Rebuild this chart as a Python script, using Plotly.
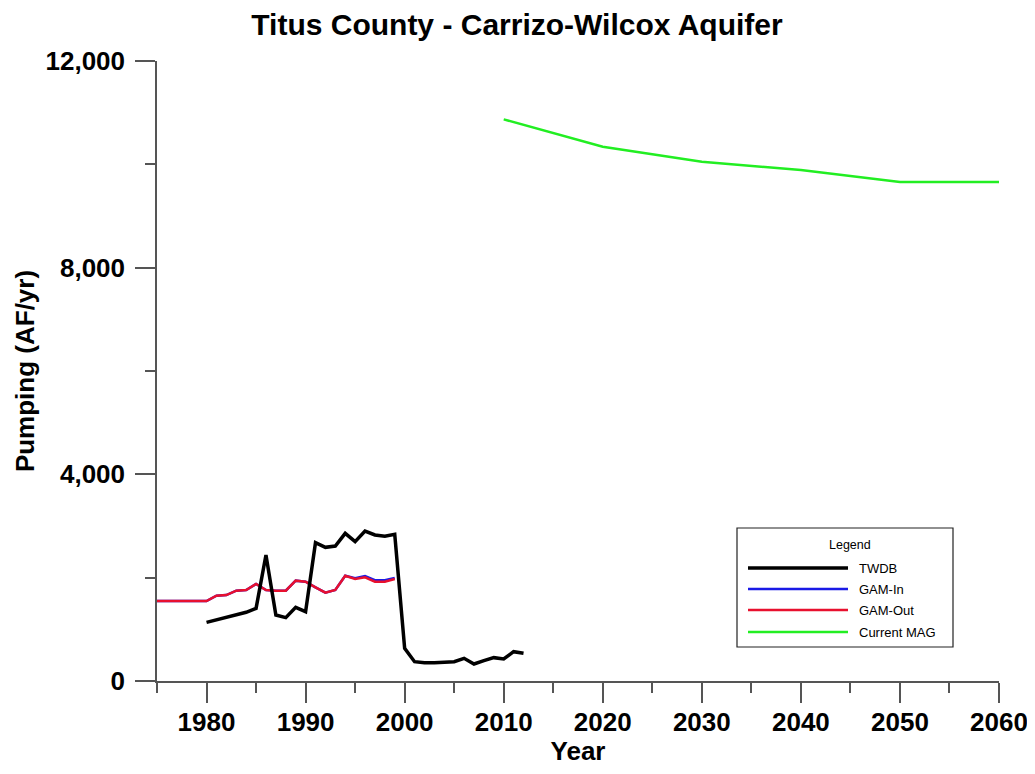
import plotly.graph_objects as go

# ---------------- data ----------------
twdb_years = list(range(1980, 2013))
twdb_vals = [1135, 1180, 1230, 1280, 1330, 1406, 2439, 1277, 1226, 1426, 1342,
             2677, 2587, 2613, 2858, 2697, 2903, 2826, 2800, 2839,
             632, 374, 355, 355, 361, 374, 439, 329, 393, 452, 426, 568, 536]

gam_years = list(range(1975, 2000))
gam_out_vals = [1548, 1548, 1548, 1548, 1548, 1548, 1651, 1664, 1748, 1760,
                1877, 1761, 1748, 1748, 1942, 1922, 1813, 1709, 1761, 2038,
                1974, 2006, 1922, 1922, 1974]
gam_in_vals = [1548, 1548, 1548, 1548, 1548, 1548, 1651, 1664, 1748, 1760,
               1877, 1761, 1748, 1748, 1942, 1922, 1813, 1709, 1761, 2038,
               1990, 2030, 1950, 1950, 1995]

mag_years = [2010, 2020, 2030, 2040, 2050, 2060]
mag_vals = [10870, 10340, 10050, 9890, 9660, 9660]

series_names = ["TWDB", "GAM-In", "GAM-Out", "Current MAG"]
series_colors = ["#000000", "#1a1ae6", "#e8102e", "#22ee22"]
series_widths = [3.5, 2.5, 2.5, 2.5]

y_tickvals = [0, 4000, 8000, 12000]
x_tickvals = [1980, 1990, 2000, 2010, 2020, 2030, 2040, 2050, 2060]

# page has an 8px body margin; figure coordinates are page coords minus 8
OFF = 8
W, H = 1035 - OFF, 774 - 2 * OFF
L, T = 157 - OFF, 61 - OFF
R = W - (999 - OFF)
B = H - (681 - OFF)
PW, PH = W - L - R, H - T - B

FONT = "Liberation Sans, Arial, sans-serif"

fig = go.Figure()
order = [1, 2, 0, 3]  # blue under red
data_x = [twdb_years, gam_years, gam_years, mag_years]
data_y = [twdb_vals, gam_in_vals, gam_out_vals, mag_vals]
for i in order:
    fig.add_trace(go.Scatter(
        x=data_x[i], y=data_y[i], mode="lines", name=series_names[i],
        line=dict(color=series_colors[i], width=series_widths[i]),
        showlegend=False))

axis_common = dict(
    showline=True, linecolor="#555555", linewidth=1.5,
    ticks="outside", ticklen=20, tickwidth=1.5, tickcolor="#555555",
    showgrid=False, zeroline=False,
)

fig.update_xaxes(
    range=[1975, 2060], tickvals=x_tickvals, ticklabelstandoff=-3,
    tickfont=dict(family=FONT, size=26, color="#000000", weight="bold"),
    minor=dict(dtick=5, tick0=1975, ticklen=10, tickwidth=1.5,
               tickcolor="#555555", ticks="outside", showgrid=False),
    title=dict(text="Year", font=dict(family=FONT, size=26, color="#000", weight="bold"),
               standoff=10),
    **axis_common)
fig.update_yaxes(
    range=[0, 12000], tickvals=y_tickvals, tickformat=",", ticklabelstandoff=5,
    tickfont=dict(family=FONT, size=26, color="#000000", weight="bold"),
    minor=dict(dtick=2000, tick0=0, ticklen=10, tickwidth=1.5,
               tickcolor="#555555", ticks="outside", showgrid=False),
    title=dict(text="Pumping (AF/yr)", font=dict(family=FONT, size=26, color="#000", weight="bold"),
               standoff=3),
    **axis_common)


def px(xp):
    return (xp - OFF - L) / PW


def py(yp):
    return (H - B - (yp - OFF)) / PH


# ---- custom legend (page pixel coordinates) ----
shapes = [dict(type="rect", xref="paper", yref="paper",
               x0=px(737), x1=px(953), y0=py(647), y1=py(528),
               line=dict(color="#222222", width=1.2), fillcolor="white")]
annotations = [dict(text="Legend", xref="paper", yref="paper", x=px(850), y=py(545),
                    xanchor="center", yanchor="middle", showarrow=False,
                    font=dict(family=FONT, size=12.5, color="#000"))]
item_y = [568, 589, 610, 632]
for i, name in enumerate(series_names):
    shapes.append(dict(type="line", xref="paper", yref="paper",
                       x0=px(748), x1=px(848), y0=py(item_y[i]), y1=py(item_y[i]),
                       line=dict(color=series_colors[i], width=series_widths[i])))
    annotations.append(dict(text=name, xref="paper", yref="paper", x=px(857), y=py(item_y[i]),
                            xanchor="left", yanchor="middle", showarrow=False,
                            font=dict(family=FONT, size=13, color="#000")))

fig.update_layout(
    width=W, height=H,
    margin=dict(l=L, r=R, t=T, b=B, autoexpand=False),
    paper_bgcolor="white", plot_bgcolor="white",
    title=dict(text="Titus County - Carrizo-Wilcox Aquifer", x=(517 - OFF) / W, xref="container",
               xanchor="center", y=1 - (24 - OFF) / H, yref="container", yanchor="middle",
               font=dict(family=FONT, size=30, color="#000", weight="bold")),
    shapes=shapes, annotations=annotations,
    showlegend=False,
)

fig.write_html("out.html")
